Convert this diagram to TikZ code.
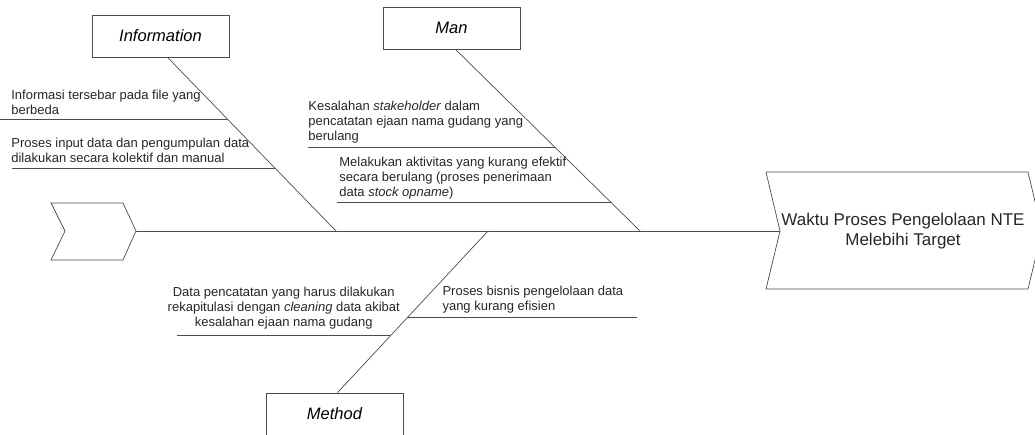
\documentclass[tikz,border=0pt]{standalone}
\usepackage{fontspec}
\setmainfont{Liberation Sans}
\usetikzlibrary{calc,positioning}

\tikzset{
  catbox/.style={draw, fill=white, minimum width=137pt, minimum height=42pt, inner sep=0pt,
    font=\fontsize{16.5}{18}\selectfont\itshape},
  cause/.style={inner sep=0pt, text=black!85, font=\fontsize{13}{15}\selectfont, align=left},
}

\begin{document}
\begin{tikzpicture}[x=1pt,y=-1pt,line width=0.7pt,draw=black!70]
  \useasboundingbox (0,0) rectangle (1035,435);
  \clip (0,0) rectangle (1035,435);

  % tail and head of the fish
  \draw (51,203) -- (123,203) -- (136,231) -- (123,260) -- (51,260) -- (65,231) -- cycle;
  \coordinate (tail) at (136,231);
  \draw (766,172) -- (1028,172) -- (1042,231) -- (1028,289) -- (766,289) -- (780,231) -- cycle;
  \coordinate (headnotch) at (780,231);
  \node[text=black!85, font=\fontsize{17}{20}\selectfont, align=center] (head) at (903,231)
    {Waktu Proses Pengelolaan NTE\\Melebihi Target};

  % spine
  \draw (tail) -- (headnotch);

  % categories
  \node[catbox] (info) at (160.5,36) {Information};
  \node[catbox] (man) at (451.5,28) {Man};
  \node[catbox] (method) at (334.5,414) {Method};

  \coordinate (infoj) at (336,231);
  \coordinate (manj) at (640,231);
  \coordinate (methodj) at (488,231);
  \coordinate (infos) at ([xshift=7pt]info.south);
  \coordinate (mans) at ([xshift=4pt]man.south);
  \coordinate (methods) at ([xshift=3pt]method.north);

  \draw (infos) -- (infoj);
  \draw (mans) -- (manj);
  \draw (methodj) -- (methods);

  % Information causes
  \coordinate (i1) at ($(infos)!0.356!(infoj)$);
  \coordinate (i2) at ($(infos)!0.638!(infoj)$);
  \coordinate (i1l) at (i1 -| 0,0);
  \coordinate (i2l) at (i2 -| 12,0);
  \draw (i1l) -- (i1);
  \draw (i2l) -- (i2);
  \node[cause, anchor=south west] (infotext1) at ([xshift=11pt,yshift=4pt]i1l)
    {Informasi tersebar pada file yang\\berbeda};
  \node[cause, anchor=south west] (infotext2) at ([xshift=-1pt,yshift=5pt]i2l)
    {Proses input data dan pengumpulan data\\dilakukan secara kolektif dan manual};

  % Man causes
  \coordinate (m1) at ($(mans)!0.538!(manj)$);
  \coordinate (m2) at ($(mans)!0.841!(manj)$);
  \coordinate (m1l) at (m1 -| 308,0);
  \coordinate (m2l) at (m2 -| 337,0);
  \draw (m1l) -- (m1);
  \draw (m2l) -- (m2);
  \node[cause, anchor=south west] (mantext1) at ([yshift=4pt]m1l)
    {Kesalahan \textit{stakeholder} dalam\\pencatatan ejaan nama gudang yang\\berulang};
  \node[cause, anchor=south west] (mantext2) at ([xshift=2pt,yshift=3pt]m2l)
    {Melakukan aktivitas yang kurang efektif\\secara berulang (proses penerimaan\\data \textit{stock opname})};

  % Method causes
  \coordinate (d1) at ($(methodj)!0.648!(methods)$);
  \coordinate (d2) at ($(methodj)!0.537!(methods)$);
  \coordinate (d1l) at (d1 -| 177,0);
  \coordinate (d2r) at (d2 -| 637,0);
  \draw (d1l) -- (d1);
  \draw (d2) -- (d2r);
  \node[cause, align=center, anchor=south] (methodtext1) at ([yshift=6pt]$(d1l)!0.5!(d1)$)
    {Data pencatatan yang harus dilakukan\\rekapitulasi dengan \textit{cleaning} data akibat\\kesalahan ejaan nama gudang};
  \node[cause, anchor=south west] (methodtext2) at ([xshift=35pt,yshift=4pt]d2)
    {Proses bisnis pengelolaan data\\yang kurang efisien};
\end{tikzpicture}
\end{document}
